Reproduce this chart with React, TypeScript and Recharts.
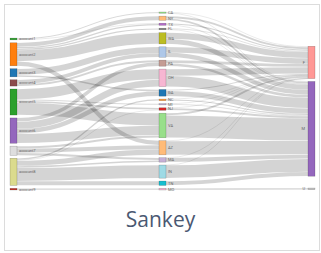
import React from "react";
import { Sankey } from "recharts";

const leftNames = ["account1", "account2", "account3", "account4", "account5", "account6", "account7", "account8", "account9"];
const leftColors = ["#2ca02c", "#ff7f0e", "#1f77b4", "#8c4a4a", "#2ca02c", "#9467bd", "#dedede", "#dbdb8d", "#c0392b"];

const midNames = ["CA", "NY", "TX", "FL", "WA", "IL", "PA", "OH", "GA", "NC", "MI", "NJ", "VA", "AZ", "MA", "IN", "TN", "MO"];
const midColors = [
  "#98df8a", "#ffbb78", "#b36bc9", "#7f7f7f", "#bcbd22", "#aec7e8", "#c49c94", "#f7b6d2", "#1f77b4",
  "#ff9f3f", "#c5b0d5", "#d62728", "#98df8a", "#ffbb78", "#c5b0d5", "#9edae5", "#17becf", "#f7b6d2",
];

const rightNames = ["F", "M", "U"];
const rightColors = ["#ff9896", "#9467bd", "#c7c7c7"];

// [left index, middle index, value]
const firstFlows: [number, number, number][] = [
  [0, 0, 12], [0, 2, 5],
  [1, 1, 40], [1, 2, 15], [1, 3, 15], [1, 4, 108], [1, 13, 43],
  [2, 5, 60], [2, 8, 18],
  [3, 5, 40], [3, 6, 21],
  [4, 7, 100], [4, 12, 120], [4, 10, 12], [4, 11, 18],
  [5, 6, 37], [5, 7, 68], [5, 8, 46], [5, 12, 92],
  [6, 12, 24], [6, 13, 40], [6, 14, 24],
  [7, 13, 53], [7, 14, 18], [7, 15, 126], [7, 16, 42], [7, 11, 6], [7, 9, 16],
  [8, 17, 16],
];

// middle node -> right nodes
const toF = [8, 22, 14, 10, 60, 55, 30, 65, 12, 2, 2, 3, 21, 4, 1, 1, 0, 0];
const toM = [4, 18, 6, 5, 48, 45, 28, 103, 52, 14, 10, 21, 215, 132, 41, 125, 42, 0];
const toU = [0, 0, 0, 0, 0, 0, 0, 0, 0, 0, 0, 0, 0, 0, 0, 0, 0, 16];

// invisible spacer nodes, only used so the columns sit like the original (no marks drawn)
const padLeftTop = 212;
const padRightTop = 301;
const padRightGap = 58;

// node order: hidden root, left spacer, left, middle, right spacer, F, M, gap spacer, U
const ROOT = 0;
const LPAD = 1;
const leftOffset = 2;
const midOffset = leftOffset + leftNames.length;
const RPAD = midOffset + midNames.length;
const GPAD = RPAD + 3;
const rightIndex = [RPAD + 1, RPAD + 2, GPAD + 1];

const nodes = [
  { name: "", color: "none", hidden: true },
  { name: "", color: "none", hidden: true },
  ...leftNames.map((name, i) => ({ name, color: leftColors[i] })),
  ...midNames.map((name, i) => ({ name, color: midColors[i] })),
  { name: "", color: "none", hidden: true },
  { name: rightNames[0], color: rightColors[0] },
  { name: rightNames[1], color: rightColors[1] },
  { name: "", color: "none", hidden: true },
  { name: rightNames[2], color: rightColors[2] },
];

const links: { source: number; target: number; value: number }[] = [
  { source: ROOT, target: LPAD, value: padLeftTop },
  { source: LPAD, target: RPAD, value: padLeftTop },
  { source: ROOT, target: RPAD, value: padRightTop - padLeftTop },
  { source: ROOT, target: GPAD, value: padRightGap },
];
leftNames.forEach((_, i) => links.push({ source: ROOT, target: leftOffset + i, value: 0.0001 }));
firstFlows.forEach(([s, t, v]) => links.push({ source: leftOffset + s, target: midOffset + t, value: v }));
[toF, toM, toU].forEach((arr, r) =>
  arr.forEach((v, i) => {
    if (v > 0) links.push({ source: midOffset + i, target: rightIndex[r], value: v });
  })
);

function SankeyNode({ x, y, width, height, payload }: any) {
  if (payload.hidden) return <g />;
  const last = x > 250;
  return (
    <g>
      <rect
        x={x}
        y={y}
        width={width}
        height={Math.max(height, 1)}
        fill={payload.color}
        stroke="#000"
        strokeOpacity={0.3}
        strokeWidth={0.5}
      />
      <text
        x={last ? x - 3 : x + width + 2}
        y={y + height / 2}
        dy="0.35em"
        textAnchor={last ? "end" : "start"}
        fontSize={4}
        fill="#666"
        fontFamily="Roboto, sans-serif"
      >
        {payload.name}
      </text>
    </g>
  );
}

function SankeyLink({ sourceX, targetX, sourceY, targetY, sourceControlX, targetControlX, linkWidth, payload }: any) {
  if (payload.source.hidden || payload.target.hidden) return <g />;
  return (
    <path
      d={`M${sourceX},${sourceY}C${sourceControlX},${sourceY} ${targetControlX},${targetY} ${targetX},${targetY}`}
      fill="none"
      stroke="#000"
      strokeOpacity={0.17}
      strokeWidth={Math.max(0.5, linkWidth - 0.35)}
    />
  );
}

export default function App() {
  return (
    <div style={{ position: "absolute", left: 0, top: 0, width: 321, height: 253, background: "#fff" }}>
      <div
        style={{
          position: "absolute",
          left: 4,
          top: 4,
          width: 316,
          height: 247,
          border: "1px solid #dcdcdc",
          boxSizing: "border-box",
        }}
      />
      <div style={{ position: "absolute", left: 0, top: 0 }}>
        <Sankey
          width={321}
          height={200}
          data={{ nodes, links }}
          nodeWidth={7}
          nodePadding={2.9}
          iterations={0}
          sort={false}
          margin={{ left: -139, right: 6, top: 12, bottom: 10 }}
          node={<SankeyNode />}
          link={<SankeyLink />}
        />
      </div>
      <div
        style={{
          position: "absolute",
          left: 0,
          top: 205,
          width: 321,
          textAlign: "center",
          fontSize: 21,
          color: "#4a5872",
          fontFamily: '"Open Sans", sans-serif',
        }}
      >
        Sankey
      </div>
    </div>
  );
}
